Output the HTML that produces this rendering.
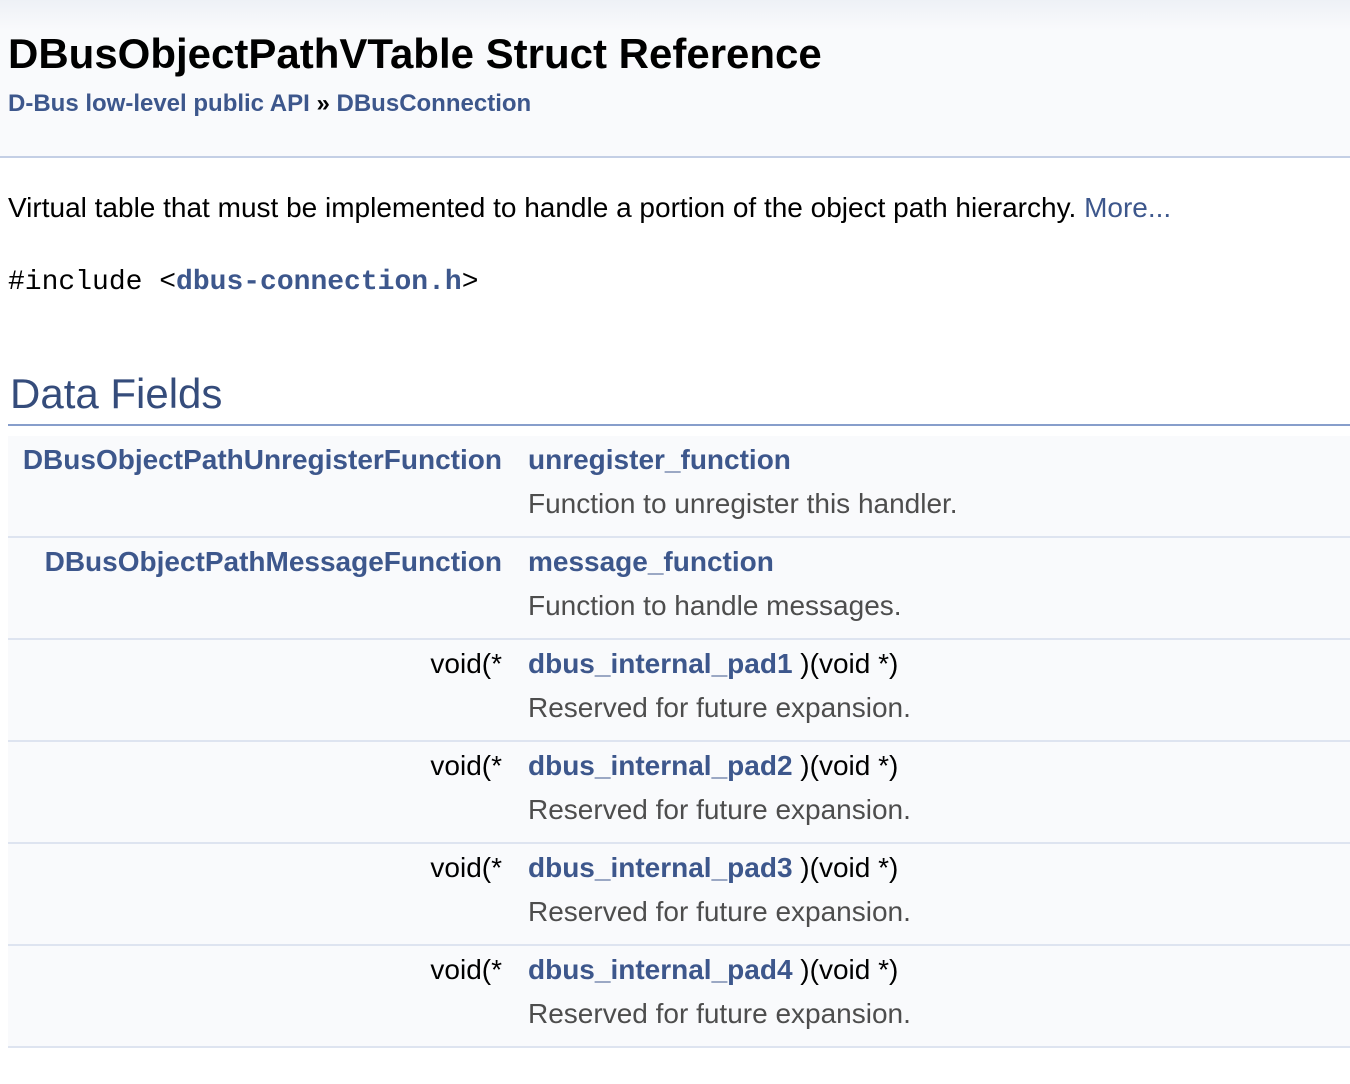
<!DOCTYPE html>
<html><head><style>
body{margin:0;width:1350px;height:1084px;background:#fff;font-family:"Liberation Sans",sans-serif;position:relative;overflow:hidden}
.a{position:absolute;white-space:nowrap}
.hdr{position:absolute;left:0;top:0;width:1350px;height:156px;background:linear-gradient(#eef1f6 0,#f9fafc 30px);border-bottom:2px solid #c4cfe5}
.l{color:#3d578c;font-weight:bold}
.row{position:absolute;left:8px;width:1342px;height:100px;background:#f9fafc;border-bottom:2px solid #dee4f0}
.k{position:absolute;right:848px;top:8px;font-size:28px;white-space:nowrap}
.n{position:absolute;left:520px;top:8px;font-size:28px;white-space:nowrap}
.d{position:absolute;left:520px;top:52px;font-size:28px;color:#4d4d4d;white-space:nowrap}
</style></head><body>
<div class="hdr"></div>
<div class="a" style="left:8px;top:30px;font-size:42px;font-weight:bold;color:#000">DBusObjectPathVTable Struct Reference</div>
<div class="a" style="left:8px;top:90px;font-size:24px;font-weight:bold;color:#000"><span class="l">D-Bus low-level public API</span> » <span class="l">DBusConnection</span></div>
<div class="a" style="left:8px;top:192px;font-size:28px;color:#000">Virtual table that must be implemented to handle a portion of the object path hierarchy. <span style="color:#3d578c">More...</span></div>
<div class="a" style="left:8px;top:267px;font-size:28px;font-family:'Liberation Mono','DejaVu Sans Mono',monospace;color:#000">#include &lt;<span class="l">dbus-connection.h</span>&gt;</div>
<div class="a" style="left:10px;top:370px;font-size:42px;color:#354c7b">Data Fields</div>
<div class="a" style="left:8px;top:424px;width:1342px;height:2px;background:#879ecb"></div>
<div class="row" style="top:436px"><span class="k l">DBusObjectPathUnregisterFunction</span><span class="n l">unregister_function</span><span class="d">Function to unregister this handler.</span></div>
<div class="row" style="top:538px"><span class="k l">DBusObjectPathMessageFunction</span><span class="n l">message_function</span><span class="d">Function to handle messages.</span></div>
<div class="row" style="top:640px"><span class="k">void(*</span><span class="n"><span class="l">dbus_internal_pad1</span> )(void *)</span><span class="d">Reserved for future expansion.</span></div>
<div class="row" style="top:742px"><span class="k">void(*</span><span class="n"><span class="l">dbus_internal_pad2</span> )(void *)</span><span class="d">Reserved for future expansion.</span></div>
<div class="row" style="top:844px"><span class="k">void(*</span><span class="n"><span class="l">dbus_internal_pad3</span> )(void *)</span><span class="d">Reserved for future expansion.</span></div>
<div class="row" style="top:946px"><span class="k">void(*</span><span class="n"><span class="l">dbus_internal_pad4</span> )(void *)</span><span class="d">Reserved for future expansion.</span></div>
</body></html>
